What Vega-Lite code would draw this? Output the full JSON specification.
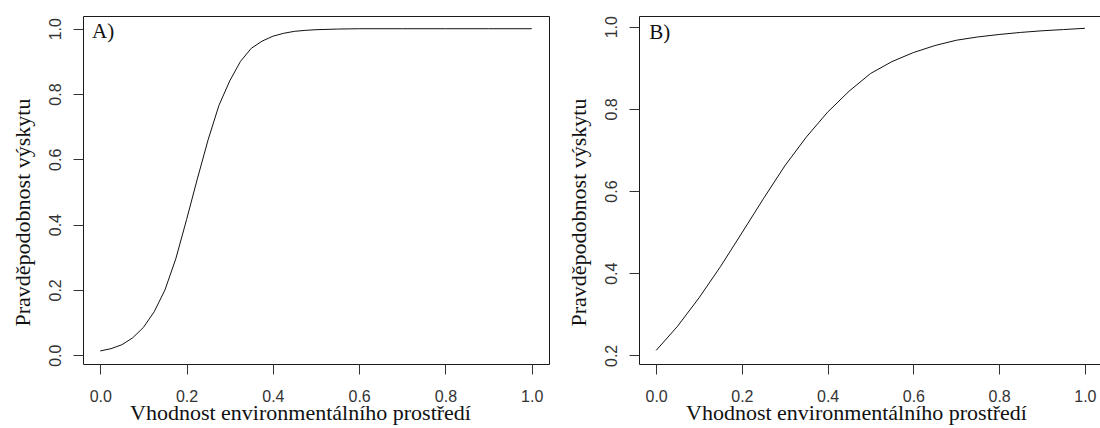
{
  "$schema": "https://vega.github.io/schema/vega-lite/v6.json",
  "autosize": {"type": "pad"},
  "padding": {"left": 10, "top": 15, "right": 0, "bottom": 6},
  "background": "#ffffff",
  "bounds": "flush",
  "spacing": 90,
  "datasets": {
    "curveA": [
      {"x": 0.0, "p": 0.013}, {"x": 0.025, "p": 0.02}, {"x": 0.05, "p": 0.032},
      {"x": 0.075, "p": 0.053}, {"x": 0.1, "p": 0.085}, {"x": 0.125, "p": 0.133},
      {"x": 0.15, "p": 0.2}, {"x": 0.175, "p": 0.295}, {"x": 0.2, "p": 0.415},
      {"x": 0.225, "p": 0.54}, {"x": 0.25, "p": 0.66}, {"x": 0.275, "p": 0.765},
      {"x": 0.3, "p": 0.84}, {"x": 0.325, "p": 0.9}, {"x": 0.35, "p": 0.94},
      {"x": 0.375, "p": 0.962}, {"x": 0.4, "p": 0.977}, {"x": 0.425, "p": 0.986},
      {"x": 0.45, "p": 0.992}, {"x": 0.475, "p": 0.995}, {"x": 0.5, "p": 0.997},
      {"x": 0.55, "p": 0.999}, {"x": 0.6, "p": 1.0}, {"x": 0.7, "p": 1.0},
      {"x": 0.8, "p": 1.0}, {"x": 0.9, "p": 1.0}, {"x": 1.0, "p": 1.0}
    ],
    "curveB": [
      {"x": 0.0, "p": 0.212}, {"x": 0.05, "p": 0.271}, {"x": 0.1, "p": 0.34},
      {"x": 0.15, "p": 0.416}, {"x": 0.2, "p": 0.498}, {"x": 0.25, "p": 0.581},
      {"x": 0.3, "p": 0.661}, {"x": 0.35, "p": 0.731}, {"x": 0.4, "p": 0.792},
      {"x": 0.45, "p": 0.843}, {"x": 0.5, "p": 0.886}, {"x": 0.55, "p": 0.915},
      {"x": 0.6, "p": 0.937}, {"x": 0.65, "p": 0.954}, {"x": 0.7, "p": 0.967},
      {"x": 0.75, "p": 0.975}, {"x": 0.8, "p": 0.981}, {"x": 0.85, "p": 0.986},
      {"x": 0.9, "p": 0.99}, {"x": 0.95, "p": 0.993}, {"x": 1.0, "p": 0.996}
    ],
    "tagA": [{"label": "A)", "x": -0.019, "p": 0.971}],
    "tagB": [{"label": "B)", "x": -0.016, "p": 0.971}]
  },
  "config": {
    "view": {"stroke": "#1a1a1a", "strokeWidth": 1},
    "axis": {
      "grid": false,
      "domain": false,
      "tickColor": "#333333",
      "tickSize": 10,
      "tickWidth": 1,
      "labelFont": "Liberation Sans",
      "labelFontSize": 16,
      "labelColor": "#333333",
      "titleFont": "Liberation Serif",
      "titleFontSize": 22,
      "titleFontWeight": "normal",
      "titleColor": "#111111"
    },
    "axisX": {
      "format": ".1f",
      "labelBaseline": "alphabetic",
      "labelPadding": 27,
      "labelFlush": false,
      "titleX": 217,
      "titleY": 55,
      "titleAlign": "center",
      "titleBaseline": "alphabetic"
    },
    "axisY": {
      "format": ".1f",
      "labelAngle": -90,
      "labelAlign": "center",
      "labelBaseline": "alphabetic",
      "labelPadding": 13,
      "labelFlush": false,
      "titleX": -54,
      "titleY": 196,
      "titleAngle": -90,
      "titleAlign": "center",
      "titleBaseline": "alphabetic"
    }
  },
  "hconcat": [
    {
      "width": 466,
      "height": 348,
      "layer": [
        {
          "data": {"name": "curveA"},
          "mark": {"type": "line", "color": "#111111", "strokeWidth": 1, "clip": true},
          "encoding": {
            "x": {"field": "x", "type": "quantitative", "scale": {"domain": [-0.04, 1.04], "nice": false, "zero": false}, "axis": {"values": [0, 0.2, 0.4, 0.6, 0.8, 1.0]}, "title": "Vhodnost environmentálního prostředí"},
            "y": {"field": "p", "type": "quantitative", "scale": {"domain": [-0.027, 1.039], "nice": false, "zero": false}, "axis": {"values": [0, 0.2, 0.4, 0.6, 0.8, 1.0]}, "title": "Pravděpodobnost výskytu"}
          }
        },
        {
          "data": {"name": "tagA"},
          "mark": {"type": "text", "font": "Liberation Serif", "fontSize": 21, "align": "left", "baseline": "alphabetic", "color": "#111111"},
          "encoding": {
            "x": {"field": "x", "type": "quantitative"},
            "y": {"field": "p", "type": "quantitative"},
            "text": {"field": "label"}
          }
        }
      ]
    },
    {
      "width": 463,
      "height": 348,
      "layer": [
        {
          "data": {"name": "curveB"},
          "mark": {"type": "line", "color": "#111111", "strokeWidth": 1, "clip": true},
          "encoding": {
            "x": {"field": "x", "type": "quantitative", "scale": {"domain": [-0.04, 1.04], "nice": false, "zero": false}, "axis": {"values": [0, 0.2, 0.4, 0.6, 0.8, 1.0]}, "title": "Vhodnost environmentálního prostředí"},
            "y": {"field": "p", "type": "quantitative", "scale": {"domain": [0.179, 1.026], "nice": false, "zero": false}, "axis": {"values": [0.2, 0.4, 0.6, 0.8, 1.0]}, "title": "Pravděpodobnost výskytu"}
          }
        },
        {
          "data": {"name": "tagB"},
          "mark": {"type": "text", "font": "Liberation Serif", "fontSize": 21, "align": "left", "baseline": "alphabetic", "color": "#111111"},
          "encoding": {
            "x": {"field": "x", "type": "quantitative"},
            "y": {"field": "p", "type": "quantitative"},
            "text": {"field": "label"}
          }
        }
      ]
    }
  ]
}
